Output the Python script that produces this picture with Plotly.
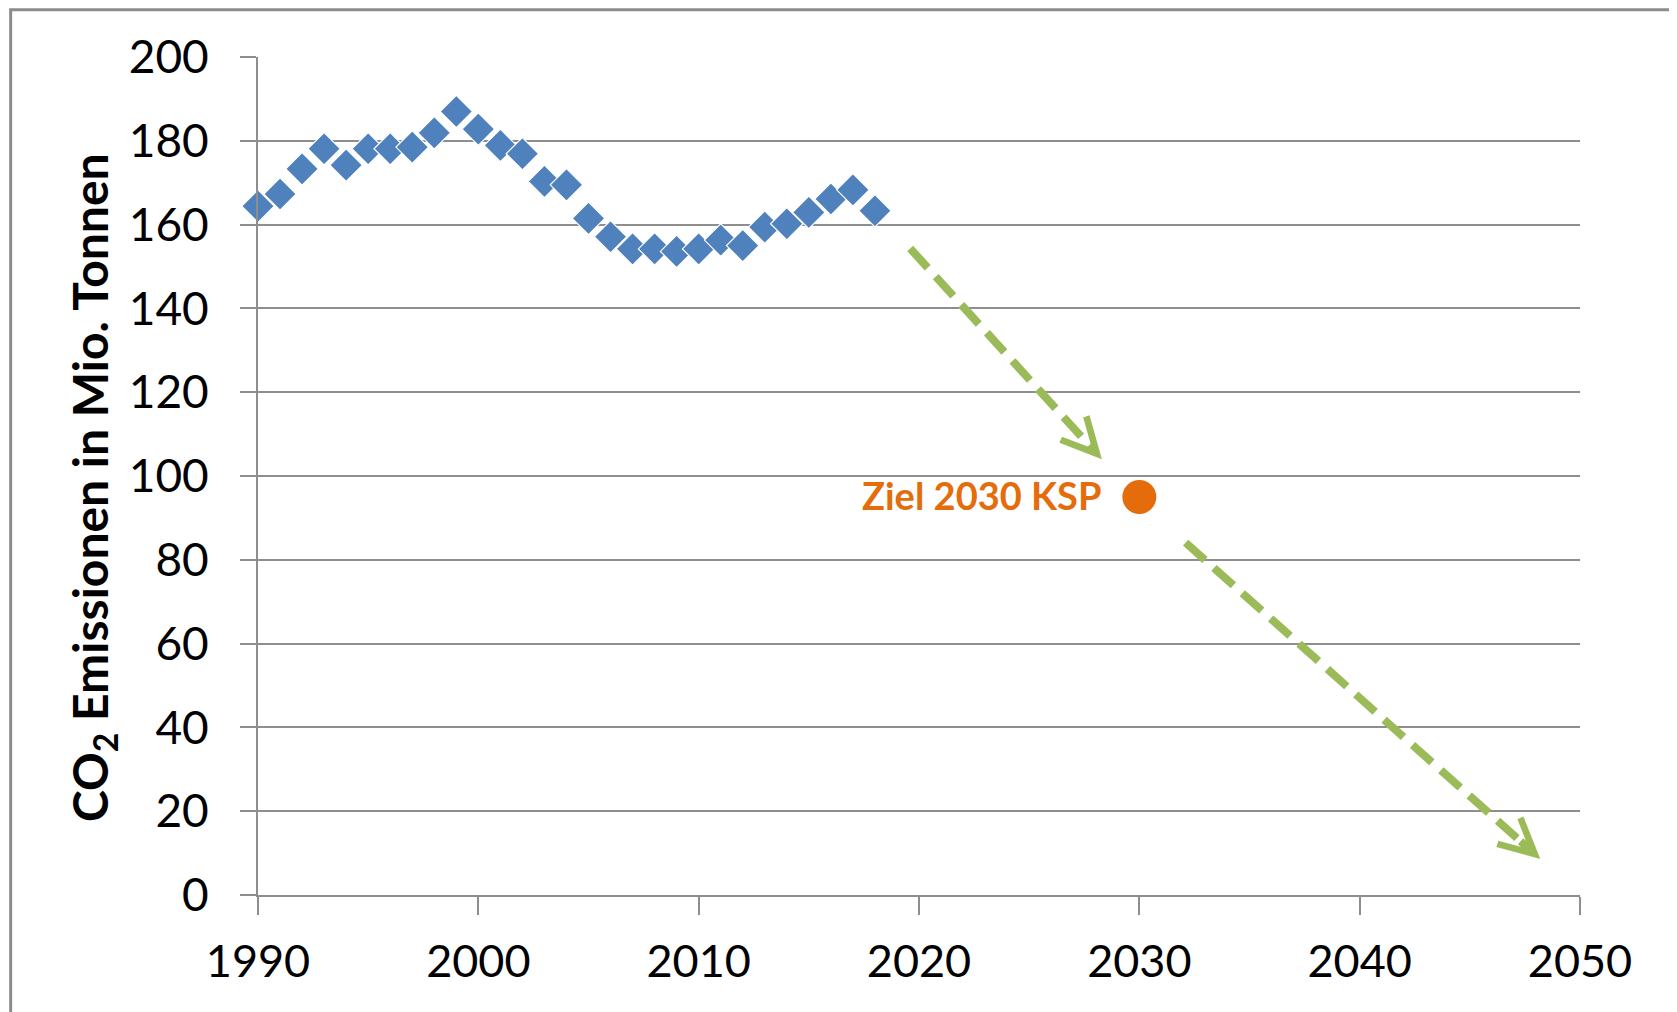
import plotly.graph_objects as go

# ---- data ----
years = list(range(1990, 2019))
emissions = [164.4, 167.3, 173.3, 178.1, 174.2, 178.1, 178.1, 178.5, 181.9, 187.0,
             182.8, 178.9, 176.9, 170.3, 169.5, 161.5, 157.1, 154.2, 154.2, 153.6,
             154.2, 156.3, 155.0, 159.4, 160.2, 162.9, 166.1, 168.3, 163.3]
target_year = [2030]
target_value = [95]
target_label = "Ziel 2030 KSP"
# trend arrows: (start_year, start_value, end_year, end_value)
arrow1 = (2019.6, 154.3, 2028.3, 104.0)
arrow2 = (2032.1, 84.1, 2048.2, 8.6)
x_ticks = [1990, 2000, 2010, 2020, 2030, 2040, 2050]
y_ticks = [0, 20, 40, 60, 80, 100, 120, 140, 160, 180, 200]

BLUE = "#4F81BD"
ORANGE = "#E46C0A"
GREEN = "#9BBB59"
GRID = "#8E8E8E"
FONT = "Lato, Calibri, Arial, sans-serif"

fig = go.Figure()

fig.add_trace(go.Scatter(
    x=years, y=emissions, mode="markers",
    marker=dict(symbol="diamond", size=25, color=BLUE,
                line=dict(color="white", width=1.2)),
    cliponaxis=False, showlegend=False, hoverinfo="x+y"))

for a in (arrow1, arrow2):
    x0, y0, x1, y1 = a
    fig.add_trace(go.Scatter(
        x=[x0, x1 - 0.04 * (x1 - x0)], y=[y0, y1 - 0.04 * (y1 - y0)],
        mode="lines", line=dict(color=GREEN, width=8, dash="26px,12px"),
        showlegend=False, hoverinfo="skip"))
    fig.add_annotation(
        x=x1, y=y1, ax=x1 - 0.06 * (x1 - x0), ay=y1 - 0.06 * (y1 - y0),
        xref="x", yref="y", axref="x", ayref="y", text="",
        showarrow=True, arrowhead=5, arrowsize=0.85, arrowwidth=8,
        arrowcolor=GREEN)

fig.add_trace(go.Scatter(
    x=target_year, y=target_value, mode="markers",
    marker=dict(symbol="circle", size=34, color=ORANGE),
    showlegend=False, hoverinfo="x+y"))

fig.add_annotation(
    x=target_year[0], y=target_value[0], xref="x", yref="y",
    text="<b>" + target_label + "</b>", showarrow=False,
    xanchor="right", yanchor="middle", xshift=-36, yshift=2,
    font=dict(family=FONT, size=38, color=ORANGE))

fig.update_xaxes(
    range=[1990, 2050], tickvals=x_ticks, ticktext=[str(t) for t in x_ticks],
    showgrid=False, zeroline=False, showline=True, linecolor=GRID, linewidth=2,
    ticks="outside", ticklen=18, tickwidth=2, tickcolor=GRID,
    tickfont=dict(family=FONT, size=45, color="black"),
    ticklabelstandoff=8)

fig.update_yaxes(
    range=[0, 200], tickvals=y_ticks, ticktext=[str(t) for t in y_ticks],
    showgrid=True, gridcolor=GRID, gridwidth=2, zeroline=False,
    showline=True, linecolor=GRID, linewidth=2,
    ticks="outside", ticklen=16, tickwidth=2, tickcolor=GRID,
    tickfont=dict(family=FONT, size=46, color="black"),
    ticklabelstandoff=22,
    title=dict(text="<b>CO<sub>2</sub> Emissionen in Mio. Tonnen\u00a0\u00a0</b>",
               font=dict(family=FONT, size=48, color="black"), standoff=5))

fig.add_shape(type="rect", xref="paper", yref="paper",
              x0=-0.1871, x1=1.0716, y0=-0.16, y1=1.0563,
              line=dict(color="#8C8C8C", width=3), layer="below")

fig.update_layout(
    width=1669, height=1004,
    margin=dict(l=250, r=97, t=49, b=117, autoexpand=False),
    paper_bgcolor="white", plot_bgcolor="white",
    showlegend=False)

fig.write_html("out.html")
